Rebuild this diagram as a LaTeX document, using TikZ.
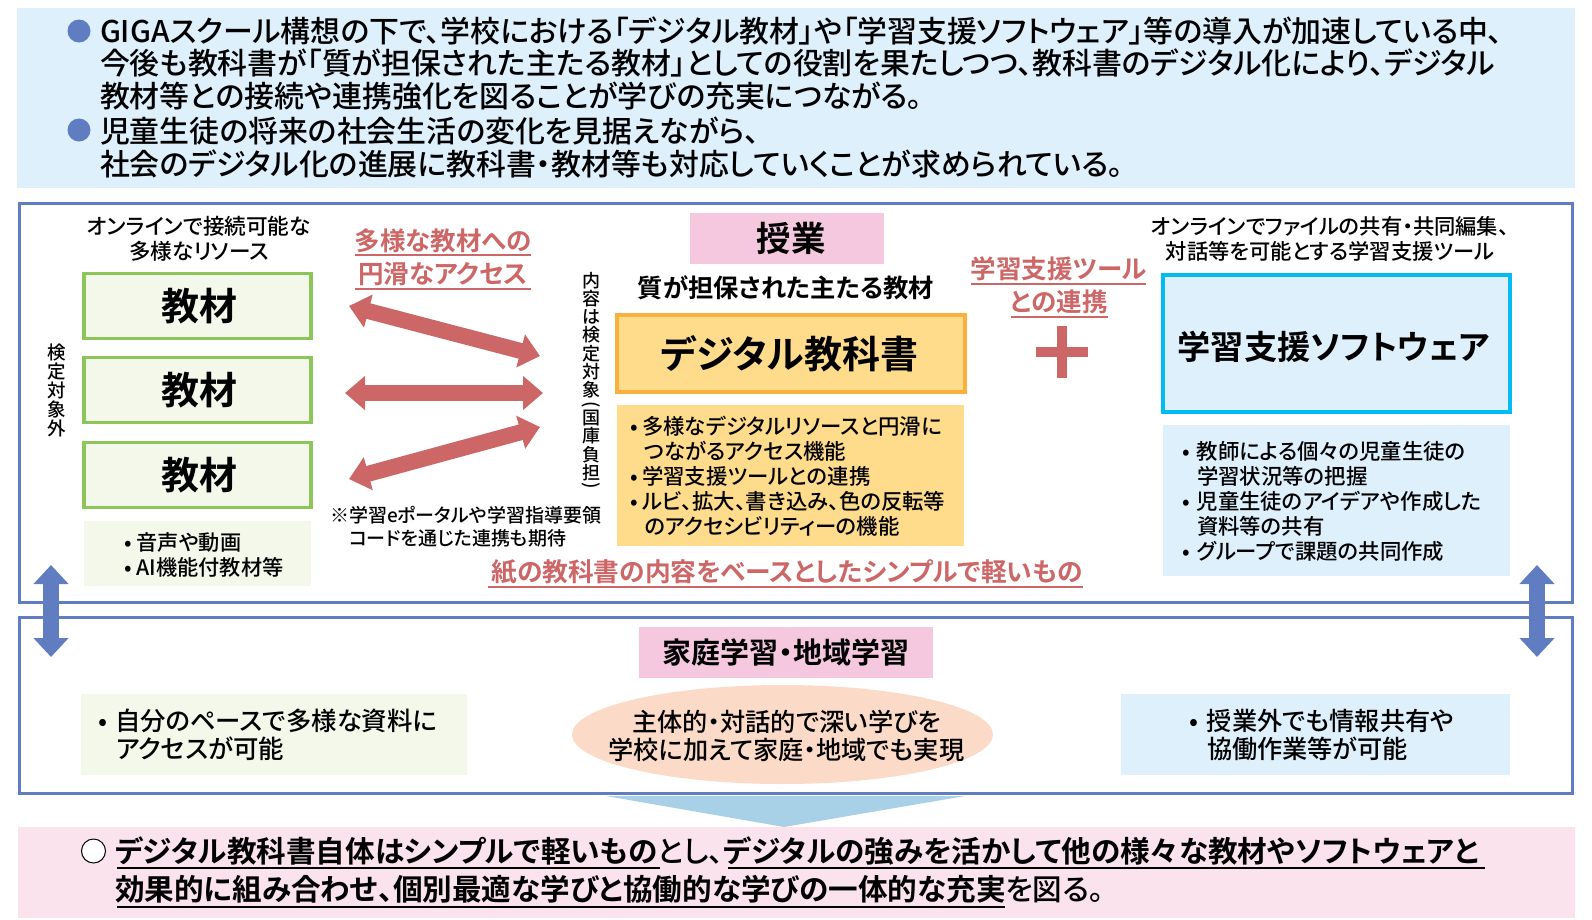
\documentclass[tikz,border=0pt]{standalone}
\usepackage{fontspec}
\setmainfont{Noto Sans CJK JP Medium}[RawFeature={+palt},BoldFont={Noto Sans CJK JP Bold}]
\usetikzlibrary{arrows.meta,shapes.geometric}
\definecolor{skyb}{HTML}{DDF0FB}
\definecolor{frameb}{HTML}{5F7DC0}
\definecolor{redc}{HTML}{CD6767}
\definecolor{lgreen}{HTML}{F4F8EA}
\definecolor{dgreen}{HTML}{8CC559}
\definecolor{pinkb}{HTML}{F5C8DF}
\definecolor{orl}{HTML}{FFDC8C}
\definecolor{ord}{HTML}{F9B03C}
\definecolor{cyanb}{HTML}{00BCF0}
\definecolor{peach}{HTML}{FBDAC8}
\definecolor{pinkl}{HTML}{FAE3EC}
\definecolor{triang}{HTML}{A8D1E7}
\newcommand{\fs}[2]{\fontsize{#1}{#2}\selectfont}
\newcommand{\vp}[1]{\rotatebox[origin=c]{-90}{#1}}
\tikzset{
  x=1pt,y=-1pt,
  txt/.style={inner sep=0pt,outer sep=0pt,align=left,anchor=west,text=black},
  ctr/.style={inner sep=0pt,outer sep=0pt,align=center,anchor=center,text=black},
  redt/.style={ctr,text=redc,font=\bfseries\fs{25.5}{33}},
  redl/.style={draw=redc,line width=1.6pt},
  blk/.style={draw=black,line width=1.8pt},
  frm/.style={draw=frameb,line width=3pt},
  matbox/.style={draw=dgreen,fill=lgreen,line width=3.5pt},
  dbl/.style={redc,line width=16pt,{Triangle[width=33pt,length=20pt]}-{Triangle[width=33pt,length=20pt]}},
  dblb/.style={frameb,line width=16pt,{Triangle[width=34pt,length=19pt]}-{Triangle[width=34pt,length=19pt]}},
  bul/.style={fill=frameb,draw=none,circle,inner sep=0pt,minimum size=23pt},
  body/.style={txt,font=\fs{21.4}{25}},
}
\begin{document}
\begin{tikzpicture}
\useasboundingbox (0,0) rectangle (1592,919);
% top panel
\fill[skyb] (17,8) rectangle (1575,188);
\node[bul] (b1) at (79,31) {};
\node[bul] (b2) at (79,130) {};
\node[txt,font=\fs{29.9}{32.5}] (t1) at (100,63.5) {GIGAスクール構想の下で、学校における「デジタル教材」や「学習支援ソフトウェア」等の導入が加速している中、\\今後も教科書が「質が担保された主たる教材」としての役割を果たしつつ、教科書のデジタル化により、デジタル\\教材等との接続や連携強化を図ることが学びの充実につながる。};
\node[txt,font=\fs{29.9}{32.5}] (t2) at (100,147.5) {児童生徒の将来の社会生活の変化を見据えながら、\\社会のデジタル化の進展に教科書・教材等も対応していくことが求められている。};
% frames
\draw[frm] (19,203) rectangle (1572,602);
\draw[frm] (19,617) rectangle (1572,793);
% left column
\node[ctr,font=\fs{21.6}{25}] (lhead) at (199,239) {オンラインで接続可能な\\多様なリソース};
\node[matbox,minimum width=227pt,minimum height=65pt,inner sep=0pt,font=\bfseries\fs{38}{40}] (m1) at (197.5,306) {\hspace*{4pt}\raisebox{-1pt}{教材}};
\node[matbox,minimum width=227pt,minimum height=65pt,inner sep=0pt,font=\bfseries\fs{38}{40}] (m2) at (197.5,390) {\hspace*{4pt}\raisebox{-2pt}{教材}};
\node[matbox,minimum width=227pt,minimum height=65pt,inner sep=0pt,font=\bfseries\fs{38}{40}] (m3) at (197.5,475) {\hspace*{4pt}\raisebox{-1pt}{教材}};
\fill[lgreen] (84,521) rectangle (311,586);
\node[txt,font=\fs{21.2}{25}] (ml) at (124,554.5) {•\hspace{5pt}音声や動画\\•\hspace{5pt}AI機能付教材等};
\node[ctr,font=\fs{18.5}{19}] (v1) at (56.5,390) {検\\定\\対\\象\\外};
% arrows
\coordinate (a1l) at (349,306); \coordinate (a1r) at (540,356);
\coordinate (a2l) at (345,393); \coordinate (a2r) at (543,393);
\coordinate (a3l) at (349,479); \coordinate (a3r) at (540,427);
\draw[dbl] (a1l) -- (a1r);
\draw[dbl] (a2l) -- (a2r);
\draw[dbl] (a3l) -- (a3r);
\node[redt] (rt1) at (443,257) {多様な教材への\\円滑なアクセス};
\draw[redl] (355,255) -- (531,255);
\draw[redl] (355,289) -- (531,289);
\node[ctr,font=\fs{18}{18.3}] (v2) at (591,381.5) {内\\容\\は\\検\\定\\対\\象\\[-4.5pt]\vp{(}\\[-4.5pt]国\\庫\\負\\担\\[-6.5pt]\vp{)}};
\node[txt,font=\fs{19}{23}] (note) at (330,526.5) {※学習eポータルや学習指導要領\\\hspace*{19pt}コードを通じた連携も期待};
% centre column
\node[fill=pinkb,minimum width=194pt,minimum height=51pt,inner sep=0pt,font=\bfseries\fs{34.5}{36}] (jugyo) at (787,238.5) {\hspace*{8pt}\raisebox{-2pt}{授業}};
\node[ctr,font=\bfseries\fs{25.3}{28}] (q) at (786,288) {質が担保された主たる教材};
\node[draw=ord,fill=orl,line width=3.5pt,minimum width=348pt,minimum height=77pt,inner sep=0pt,font=\bfseries\fs{38}{42}] (dt) at (791,353.5) {\raisebox{-1pt}{デジタル教科書}\hspace*{3pt}};
\fill[orl] (617,405) rectangle (964,546);
\node[body] (ol) at (630,476) {•\hspace{4.5pt}多様なデジタルリソースと円滑に\\\hspace*{14.5pt}つながるアクセス機能\\•\hspace{4.5pt}学習支援ツールとの連携\\•\hspace{4.5pt}ルビ、拡大、書き込み、色の反転等\\\hspace*{14.5pt}のアクセシビリティーの機能};
\node[redt,font=\bfseries\fs{25.7}{33}] (rt3) at (787,572) {紙の教科書の内容をベースとしたシンプルで軽いもの};
\draw[redl] (488,587) -- (1083,587);
% plus
\node[redt] (rt2) at (1059,285) {学習支援ツール\\との連携};
\draw[redl] (971,284) -- (1146,284);
\draw[redl] (1011,317) -- (1108,317);
\fill[redc] (1057,326) rectangle (1067,378);
\fill[redc] (1036,347) rectangle (1088,357);
% right column
\node[ctr,font=\fs{21.3}{25}] (rhead) at (1330,239) {オンラインでファイルの共有・共同編集、\\対話等を可能とする学習支援ツール};
\node[draw=cyanb,fill=skyb,line width=4pt,minimum width=347pt,minimum height=137pt,inner sep=0pt] (sw) at (1336.5,343.5) {};
\node[ctr,font=\bfseries\fs{33.2}{36}] (swt) at (1333.5,347) {学習支援ソフトウェア};
\fill[skyb] (1163,425) rectangle (1510,576);
\node[body] (bl) at (1182,501.5) {•\hspace{7pt}教師による個々の児童生徒の\\\hspace*{15pt}学習状況等の把握\\•\hspace{7pt}児童生徒のアイデアや作成した\\\hspace*{15pt}資料等の共有\\•\hspace{7pt}グループで課題の共同作成};
% double arrows between frames
\coordinate (l1) at (51,565); \coordinate (l2) at (51,657);
\coordinate (r1) at (1537,565); \coordinate (r2) at (1537,657);
\draw[dblb] (l1) -- (l2);
\draw[dblb] (r1) -- (r2);
% lower frame
\node[fill=pinkb,minimum width=294pt,minimum height=51pt,inner sep=0pt,font=\bfseries\fs{29}{30}] (katei) at (786,652.5) {家庭学習・地域学習};
\fill[lgreen] (81,694) rectangle (467,775);
\node[txt,font=\fs{25.4}{28}] (hl) at (98,735) {•\hspace{8pt}自分のペースで多様な資料に\\\hspace*{18pt}アクセスが可能};
\node[ellipse,fill=peach,minimum width=421pt,minimum height=99pt,inner sep=0pt] (el) at (782.5,734.5) {};
\node[ctr,font=\fs{25.2}{28}] (elt) at (786.5,736) {主体的・対話的で深い学びを\\学校に加えて家庭・地域でも実現};
\fill[skyb] (1121,694) rectangle (1510,775);
\node[txt,font=\fs{25.2}{28}] (hr) at (1189,735) {•\hspace{9pt}授業外でも情報共有や\\\hspace*{18pt}協働作業等が可能};
% triangle
\fill[triang] (606,796) -- (965,796) -- (784,827) -- cycle;
% bottom panel
\fill[pinkl] (18,827) rectangle (1575,918);
\node[draw=black,fill=white,line width=1pt,circle,minimum size=24pt,inner sep=0pt] (circ) at (93.5,851) {};
\node[txt,font=\fs{29.6}{38}] (bt) at (115,870) {{\bfseries デジタル教科書自体はシンプルで軽いもの}とし、{\bfseries デジタルの強みを活かして他の様々な教材やソフトウェアと}\\{\bfseries 効果的に組み合わせ、個別最適な学びと協働的な学びの一体的な充実}を図る。};
\draw[blk] (117,868) -- (660,868);
\draw[blk] (728,868) -- (1485,868);
\draw[blk] (117,907) -- (1005,907);
\end{tikzpicture}
\end{document}
